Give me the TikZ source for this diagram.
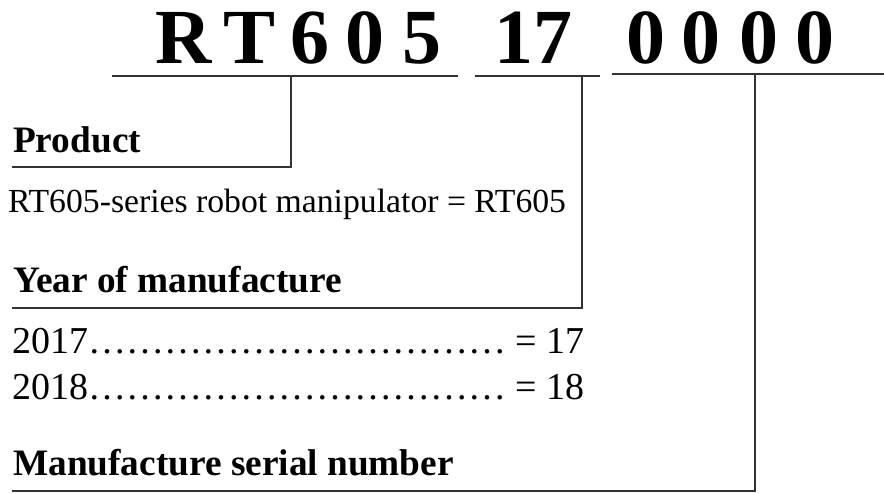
\documentclass[tikz,border=0pt]{standalone}
\usepackage{fontspec}
\setmainfont{Liberation Serif}
\usepackage{tikz}
\usetikzlibrary{positioning}
\definecolor{rulegray}{HTML}{333333}
% eleven ellipsis glyphs
\newcommand{\yeardots}{\textellipsis\textellipsis\textellipsis\textellipsis\textellipsis\textellipsis\textellipsis\textellipsis\textellipsis\textellipsis\textellipsis}

\begin{document}
\begin{tikzpicture}[x=1pt, y=-1pt,
    codechar/.style={font=\fontsize{78}{80}\selectfont\bfseries, inner sep=0pt, anchor=base},
    head/.style={font=\fontsize{37.3}{40}\selectfont\bfseries, inner sep=0pt, anchor=base west},
    desc/.style={font=\fontsize{33.7}{36}\selectfont, inner sep=0pt, anchor=base west},
    yearrow/.style={font=\fontsize{38}{40}\selectfont, inner sep=0pt, anchor=base west},
    bracket/.style={draw=rulegray, line width=2.6pt}]
  \useasboundingbox (0,0) rectangle (884,493);
  % serial code
  \foreach \ch/\cx [count=\i] in {R/183.5,T/250,6/309.5,0/365,5/421.5,17/533.5,0/645.5,0/701,0/758.5,0/814.5}
    \node[codechar] (c\i) at (\cx,63) {\ch};
  % underlines
  \coordinate (pa) at (112,76);  \coordinate (pb) at (458,76);
  \coordinate (ya) at (475,76);  \coordinate (yb) at (600,76);
  \coordinate (sa) at (612,74);  \coordinate (sb) at (884,74);
  \draw[bracket] (pa) -- (pb);
  \draw[bracket] (ya) -- (yb);
  \draw[bracket] (sa) -- (sb);
  % product
  \node[head] (prod) at (13,152) {Product};
  \node[desc] (prodval) at (8,212) {RT605-series robot manipulator = RT605};
  \coordinate (pdrop) at (291,76);
  \coordinate (pend) at (12,167);
  \draw[bracket] (pdrop) |- (pend);
  % year
  \node[head] (year) at (13,292) {Year of manufacture};
  \node[yearrow] (y17) at (12,353) {2017\yeardots{} = 17};
  \node[yearrow] (y18) at (12,399) {2018\yeardots{} = 18};
  \coordinate (ydrop) at (582,76);
  \coordinate (yend) at (12,308);
  \draw[bracket] (ydrop) |- (yend);
  % serial number
  \node[head] (serial) at (13,475) {Manufacture serial number};
  \coordinate (sdrop) at (755,74);
  \coordinate (send) at (12,491);
  \draw[bracket] (sdrop) |- (send);
\end{tikzpicture}
\end{document}
